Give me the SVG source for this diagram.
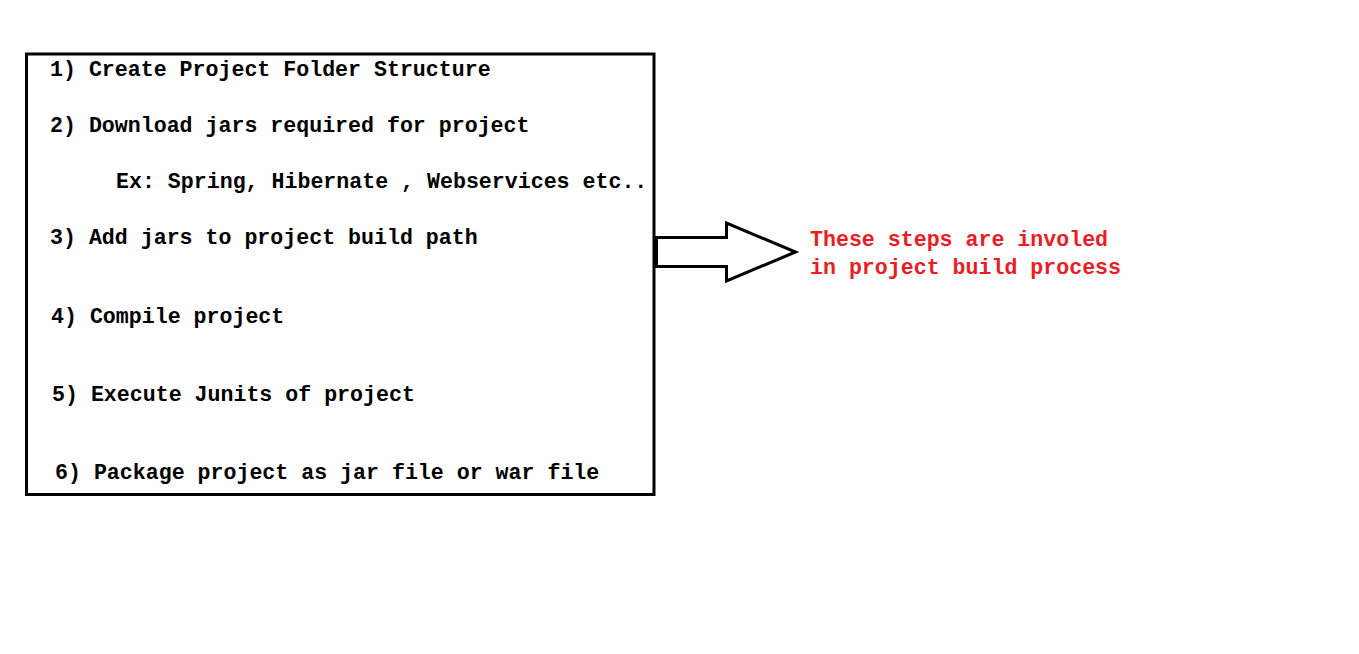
<svg xmlns="http://www.w3.org/2000/svg" width="1359" height="654" viewBox="0 0 1359 654">
<style>
.t{font-family:"Liberation Mono","DejaVu Sans Mono",monospace;font-weight:bold;font-size:21.6px;fill:#000}
.r{fill:#ED1C24}
</style>
<rect width="1359" height="654" fill="#fff"/>
<g id="steps">
<rect x="26.5" y="54" width="627.5" height="440.5" fill="none" stroke="#000" stroke-width="3"/>
<text class="t" x="50" y="76">1) Create Project Folder Structure</text>
<text class="t" x="50" y="132">2) Download jars required for project</text>
<text class="t" x="116" y="188">Ex: Spring, Hibernate , Webservices etc..</text>
<text class="t" x="50" y="244">3) Add jars to project build path</text>
<text class="t" x="51" y="323">4) Compile project</text>
<text class="t" x="52" y="401">5) Execute Junits of project</text>
<text class="t" x="55" y="479">6) Package project as jar file or war file</text>
</g>
<g id="connectors">
<path d="M656.5 237.5 H726.5 V223 L795.5 252 L726.5 281 V266.5 H656.5 Z" fill="#fff" stroke="#000" stroke-width="3" stroke-linejoin="miter"/>
</g>
<g id="note">
<text class="t r" x="810" y="246">These steps are involed</text>
<text class="t r" x="810" y="274">in project build process</text>
</g>
</svg>
